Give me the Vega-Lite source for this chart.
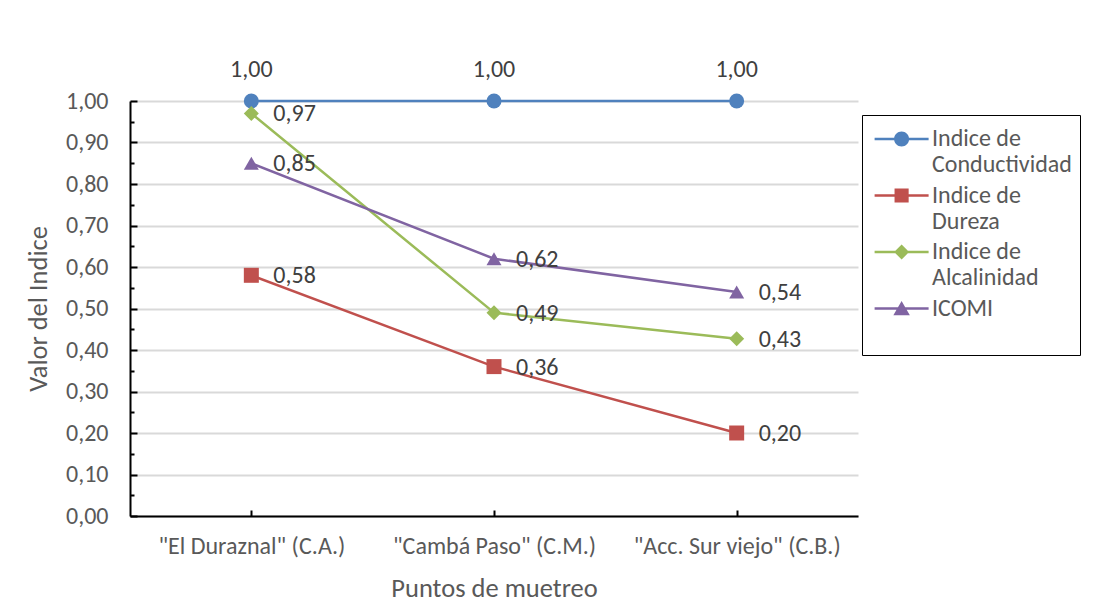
{
  "$schema": "https://vega.github.io/schema/vega-lite/v6.json",
  "width": 728,
  "height": 415,
  "autosize": {"type": "none"},
  "padding": {"left": 130, "top": 101, "right": 239, "bottom": 92},
  "background": "white",
  "config": {
    "font": "Carlito, Lato",
    "view": {"stroke": null},
    "style": {"guide-label": {"lineBreak": "|", "lineHeight": 26}},
    "locale": {"number": {"decimal": ",", "thousands": ".", "grouping": [3], "currency": ["", ""]}}
  },
  "data": {
    "values": [
      {"punto": "\"El Duraznal\" (C.A.)", "serie": "Indice de Conductividad", "valor": 1.0},
      {"punto": "\"Cambá Paso\" (C.M.)", "serie": "Indice de Conductividad", "valor": 1.0},
      {"punto": "\"Acc. Sur viejo\" (C.B.)", "serie": "Indice de Conductividad", "valor": 1.0},
      {"punto": "\"El Duraznal\" (C.A.)", "serie": "Indice de Dureza", "valor": 0.58},
      {"punto": "\"Cambá Paso\" (C.M.)", "serie": "Indice de Dureza", "valor": 0.36},
      {"punto": "\"Acc. Sur viejo\" (C.B.)", "serie": "Indice de Dureza", "valor": 0.2},
      {"punto": "\"El Duraznal\" (C.A.)", "serie": "Indice de Alcalinidad", "valor": 0.97},
      {"punto": "\"Cambá Paso\" (C.M.)", "serie": "Indice de Alcalinidad", "valor": 0.49},
      {"punto": "\"Acc. Sur viejo\" (C.B.)", "serie": "Indice de Alcalinidad", "valor": 0.427},
      {"punto": "\"El Duraznal\" (C.A.)", "serie": "ICOMI", "valor": 0.85},
      {"punto": "\"Cambá Paso\" (C.M.)", "serie": "ICOMI", "valor": 0.62},
      {"punto": "\"Acc. Sur viejo\" (C.B.)", "serie": "ICOMI", "valor": 0.54}
    ]
  },
  "encoding": {
    "x": {
      "field": "punto", "type": "nominal", "sort": null,
      "scale": {"type": "point", "padding": 0.5},
      "axis": {
        "title": "Puntos de muetreo", "labelAngle": 0, "labelFontSize": 24, "labelColor": "#595959", "labelLimit": 300,
        "titleFontSize": 26.5, "titleColor": "#595959", "titleFontWeight": "normal",
        "domainColor": "black", "domainWidth": 2, "tickColor": "black", "tickWidth": 2, "tickSize": -6,
        "labelPadding": 24, "titlePadding": 17, "grid": false
      }
    },
    "y": {
      "field": "valor", "type": "quantitative",
      "scale": {"domain": [0, 1], "nice": false, "zero": true},
      "axis": {
        "title": "Valor del Indice",
        "values": [0, 0.05, 0.1, 0.15, 0.2, 0.25, 0.3, 0.35, 0.4, 0.45, 0.5, 0.55, 0.6, 0.65, 0.7, 0.75, 0.8, 0.85, 0.9, 0.95, 1],
        "labelExpr": "round(datum.value*20) % 2 === 0 ? format(datum.value, '.2f') : ''",
        "grid": true, "gridColor": "#D9D9D9", "gridWidth": 2,
        "gridOpacity": {"condition": {"test": "round(datum.value*20) % 2 === 0", "value": 1}, "value": 0},
        "tickSize": {"condition": {"test": "round(datum.value*20) % 2 === 0", "value": -7}, "value": -4},
        "tickColor": "black", "tickWidth": 2, "domainColor": "black", "domainWidth": 2,
        "labelFontSize": 24, "labelColor": "#595959", "labelPadding": 29,
        "titleFontSize": 26.5, "titleColor": "#595959", "titleFontWeight": "normal", "titlePadding": 13
      }
    }
  },
  "layer": [
    {
      "mark": {"type": "line", "strokeWidth": 2.5},
      "encoding": {
        "color": {
          "field": "serie", "type": "nominal",
          "scale": {"domain": ["Indice de Conductividad", "Indice de Dureza", "Indice de Alcalinidad", "ICOMI"], "range": ["#4F81BD", "#C0504D", "#9BBB59", "#8064A2"]},
          "legend": null
        }
      }
    },
    {
      "mark": {"type": "point", "filled": true, "opacity": 1, "size": 225},
      "encoding": {
        "color": {
          "field": "serie", "type": "nominal", "legend": null,
          "scale": {"domain": ["Indice de Conductividad", "Indice de Dureza", "Indice de Alcalinidad", "ICOMI"], "range": ["#4F81BD", "#C0504D", "#9BBB59", "#8064A2"]}
        },
        "shape": {
          "field": "serie", "type": "nominal", "legend": null,
          "scale": {"domain": ["Indice de Conductividad", "Indice de Dureza", "Indice de Alcalinidad", "ICOMI"], "range": ["circle", "square", "diamond", "triangle-up"]}
        }
      }
    },
    {
      "transform": [{"filter": "false"}],
      "mark": {"type": "point", "filled": true, "opacity": 1},
      "encoding": {
        "color": {
          "field": "serie", "type": "nominal",
          "scale": {"domain": ["Indice de Conductividad", "Indice de Dureza", "Indice de Alcalinidad", "ICOMI"], "range": ["#4F81BD", "#C0504D", "#9BBB59", "#8064A2"]},
          "legend": {
            "orient": "none", "legendX": 732, "legendY": 14,
            "title": null, "strokeColor": "black", "fillColor": "white", "padding": 8,
            "symbolSize": 900, "symbolOpacity": 1, "labelFontSize": 24, "labelColor": "#595959", "labelOffset": 30,
            "rowPadding": 2.5, "labelLimit": 300,
            "labelExpr": "datum.label == 'ICOMI' ? 'ICOMI|' : 'Indice de|' + substring(datum.label, 10)"
          }
        },
        "shape": {
          "field": "serie", "type": "nominal",
          "scale": {
            "domain": ["Indice de Conductividad", "Indice de Dureza", "Indice de Alcalinidad", "ICOMI"],
            "range": [
              "M-0.76,-0.085H2.84V0.085H-0.76Z M1.54,0A0.5,0.5,0,1,1,0.54,0A0.5,0.5,0,1,1,1.54,0Z",
              "M-0.76,-0.085H2.84V0.085H-0.76Z M0.57,-0.47H1.51V0.47H0.57Z",
              "M-0.76,-0.085H2.84V0.085H-0.76Z M1.04,-0.5L1.54,0L1.04,0.5L0.54,0Z",
              "M-0.76,-0.085H2.84V0.085H-0.76Z M1.04,-0.5L1.59,0.45H0.49Z"
            ]
          },
          "legend": {
            "orient": "none", "legendX": 732, "legendY": 14,
            "title": null, "strokeColor": "black", "fillColor": "white", "padding": 8,
            "symbolSize": 900, "symbolOpacity": 1, "labelFontSize": 24, "labelColor": "#595959", "labelOffset": 30,
            "rowPadding": 2.5, "labelLimit": 300,
            "labelExpr": "datum.label == 'ICOMI' ? 'ICOMI|' : 'Indice de|' + substring(datum.label, 10)"
          }
        }
      }
    },
    {
      "transform": [{"filter": "datum.serie != 'Indice de Conductividad'"}],
      "mark": {"type": "text", "align": "left", "baseline": "middle", "dx": 22, "dy": 1, "fontSize": 24, "color": "#404040"},
      "encoding": {"text": {"field": "valor", "type": "quantitative", "format": ".2f"}}
    },
    {
      "transform": [{"filter": "datum.serie == 'Indice de Conductividad'"}],
      "mark": {"type": "text", "align": "center", "baseline": "middle", "dy": -31, "fontSize": 24, "color": "#404040"},
      "encoding": {"text": {"field": "valor", "type": "quantitative", "format": ".2f"}}
    }
  ],
  "resolve": {"scale": {"color": "independent", "shape": "independent"}}
}
